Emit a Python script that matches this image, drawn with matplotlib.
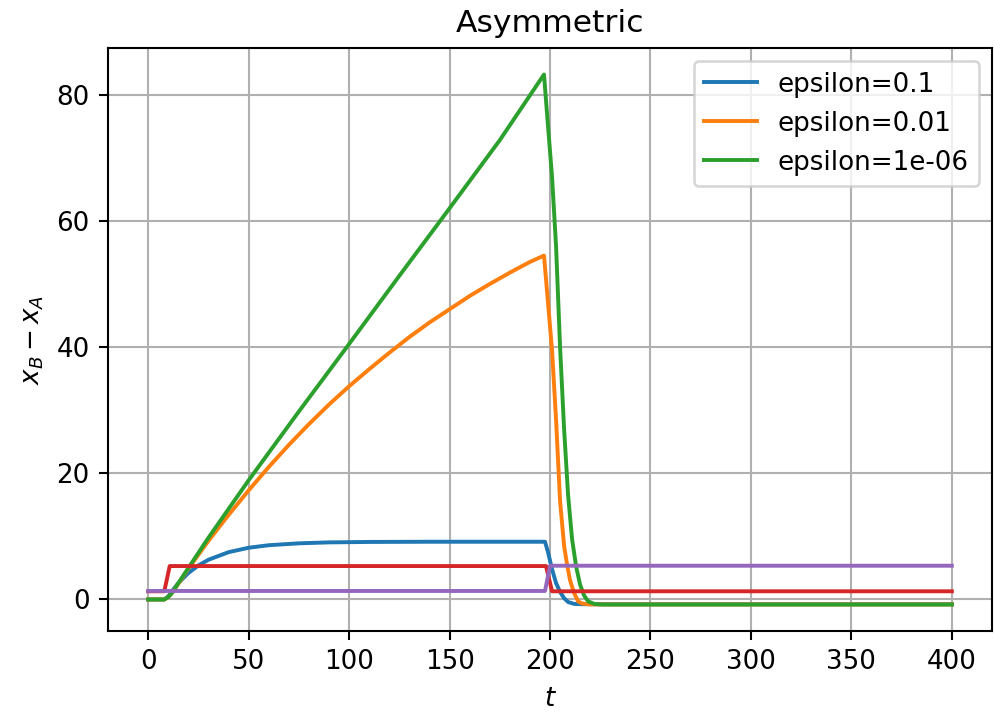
import matplotlib
matplotlib.use("Agg")
import matplotlib.pyplot as plt

# values
t_blue = [0, 8, 10, 12, 15, 20, 25, 30, 40, 50, 60, 75, 90, 110, 140, 197.5,
          199, 201, 203, 205, 207, 209, 212, 216, 400]
x_blue = [0, 0, 0.5, 1.4, 2.6, 4.2, 5.4, 6.3, 7.5, 8.2, 8.6, 8.9, 9.05, 9.12, 9.15, 9.15,
          7.5, 4.8, 2.6, 1.2, 0.2, -0.4, -0.7, -0.75, -0.75]

t_orange = [0, 8, 10, 12, 15, 20, 25, 30, 40, 50, 60, 70, 80, 90, 100, 110, 120,
            130, 140, 150, 160, 170, 180, 190, 197, 199, 201, 203, 205, 207, 208.5,
            210, 212, 214, 216, 220, 400]
x_orange = [0, 0, 0.4, 1.1, 2.5, 4.9, 7.1, 9.3, 13.4, 17.3, 21.0, 24.5, 27.8, 30.9, 33.8,
            36.5, 39.1, 41.6, 43.9, 46.0, 48.1, 50.0, 51.8, 53.5, 54.5, 47.0, 39.5, 28.5,
            15.6, 8.5, 5.5, 3.0, 1.0, -0.3, -0.65, -0.78, -0.78]

t_green = [0, 8, 10, 12, 15, 20, 25, 30, 50, 75, 100, 125, 150, 175, 197,
           199, 201, 203, 205, 207, 209, 211, 213, 215, 217, 219, 222, 226, 400]
x_green = [0, 0, 0.4, 1.1, 2.6, 5.0, 7.4, 9.8, 18.9, 29.8, 40.5, 51.3, 62.0, 72.8, 83.2,
           75, 67, 56, 40, 27, 16.5, 9.5, 5.2, 2.3, 0.6, -0.3, -0.7, -0.8, -0.8]

t_red = [0, 8, 10.7, 198, 201, 400]
x_red = [1.3, 1.3, 5.3, 5.3, 1.3, 1.3]

t_purple = [0, 197.5, 200, 400]
x_purple = [1.35, 1.35, 5.35, 5.35]

epsilons = ["0.1", "0.01", "1e-06"]

dpi = 188
fig = plt.figure(figsize=(994 / dpi, 723 / dpi), dpi=dpi)
ax = fig.add_axes([0.1087, 0.1272, 0.8893, 0.8064])

ax.plot(t_blue, x_blue, color="C0", label="epsilon=" + epsilons[0])
ax.plot(t_orange, x_orange, color="C1", label="epsilon=" + epsilons[1])
ax.plot(t_green, x_green, color="C2", label="epsilon=" + epsilons[2])
ax.plot(t_red, x_red, color="C3")
ax.plot(t_purple, x_purple, color="C4")

ax.set_title("Asymmetric")
ax.set_xlabel("$t$")
ax.set_ylabel("$x_B - x_A$")
ax.grid(True)
ax.legend(loc="upper right")

fig.savefig("out.png", dpi=dpi)
